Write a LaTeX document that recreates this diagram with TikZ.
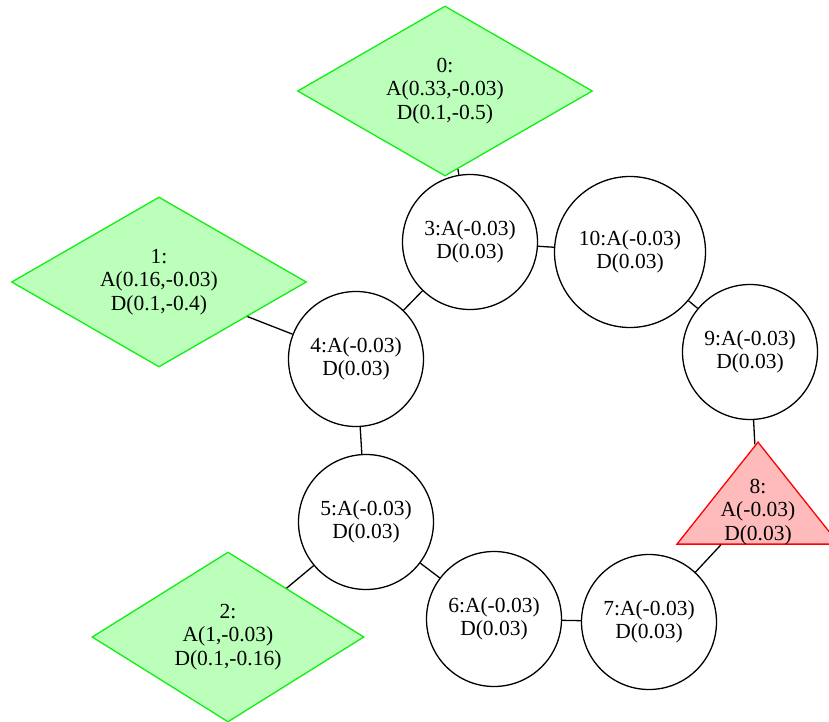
\documentclass[tikz,border=0pt]{standalone}
\usepackage{fontspec}
\setmainfont{Liberation Serif}
\usetikzlibrary{shapes.geometric}
\definecolor{leaffill}{HTML}{BBFFBB}
\definecolor{leafline}{HTML}{11EE11}
\definecolor{rootfill}{HTML}{FFBBBB}
\tikzset{
unit/.style={circle,draw=black,line width=1.3pt,minimum size=135pt,inner sep=0pt,align=center},
leaf/.style={diamond,aspect=1.73,draw=leafline,fill=leaffill,line width=1.3pt,minimum width=295pt,minimum height=170pt,inner sep=0pt,align=center},
root/.style={isosceles triangle,shape border rotate=90,isosceles triangle stretches,draw=red,fill=rootfill,line width=1.3pt,minimum width=162pt,minimum height=102pt,inner sep=0pt},
link/.style={draw=black,line width=1.3pt}
}

\begin{document}
\begin{tikzpicture}[x=1pt,y=-1pt,every node/.style={font=\fontsize{21.5}{23.5}\selectfont}]
\useasboundingbox (0,0) rectangle (829,722);
\node[leaf] (n0) at (445,91) {0:\\A(0.33,-0.03)\\D(0.1,-0.5)};
\node[leaf] (n1) at (159,282) {1:\\A(0.16,-0.03)\\D(0.1,-0.4)};
\node[leaf,minimum width=272pt,aspect=1.6] (n2) at (228,637) {2:\\A(1,-0.03)\\D(0.1,-0.16)};
\node[unit] (n3) at (470,242) {3:A(-0.03)\\D(0.03)};
\node[unit] (n4) at (356,359) {4:A(-0.03)\\D(0.03)};
\node[unit] (n5) at (366,522) {5:A(-0.03)\\D(0.03)};
\node[unit] (n6) at (494,619) {6:A(-0.03)\\D(0.03)};
\node[unit] (n7) at (649,622) {7:A(-0.03)\\D(0.03)};
\node[root,label={[yshift=-7pt,align=center]center:{8:\\A(-0.03)\\D(0.03)}}] (n8) at (758,505) {};
\node[unit] (n9) at (750,352) {9:A(-0.03)\\D(0.03)};
\node[unit,minimum size=151pt] (n10) at (630,252) {10:A(-0.03)\\D(0.03)};
\draw[link] (n0) -- (n3);
\draw[link] (n3) -- (n10);
\draw[link] (n3) -- (n4);
\draw[link] (n1) -- (n4);
\draw[link] (n4) -- (n5);
\draw[link] (n5) -- (n2);
\draw[link] (n5) -- (n6);
\draw[link] (n6) -- (n7);
\draw[link] (n7) -- (n8);
\draw[link] (n8) -- (n9);
\draw[link] (n9) -- (n10);
\end{tikzpicture}
\end{document}
